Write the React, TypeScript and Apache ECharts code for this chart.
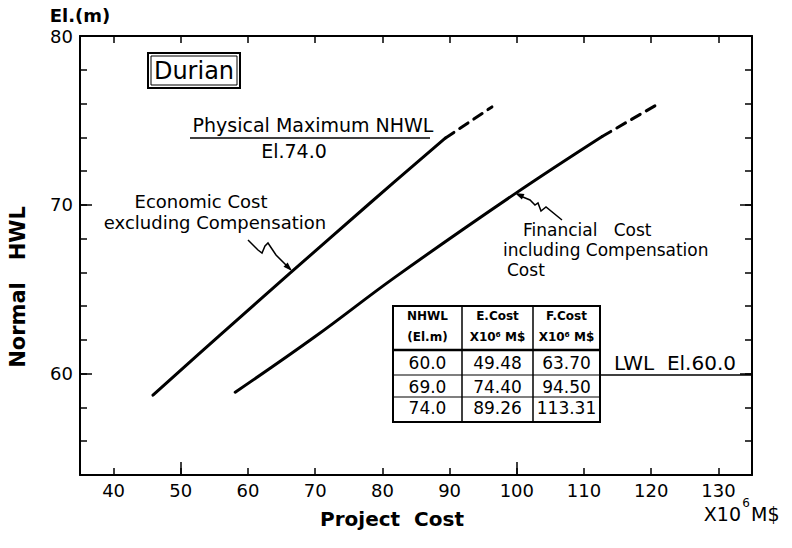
import React, { useEffect, useRef } from 'react';
import * as echarts from 'echarts';

const FONT = 'DejaVu Sans';

// axis ticks / labels
const xTicks = [40, 50, 60, 70, 80, 90, 100, 110, 120, 130];
const xMajorTicks = [50, 100];
const yTicks = [56, 58, 60, 62, 64, 66, 68, 70, 72, 74, 76, 78];
const yLabels = [60, 70, 80];
const yMajorTicks = [60, 70];

// Economic cost excluding compensation (solid) and its extension (dashed)
const economicCost = [45.86, 56, 66.25, 78, 89.4];
const economicNHWL = [58.73, 62.35, 65.95, 70.05, 73.96];
const economicExtCost = [89.4, 96.3];
const economicExtNHWL = [73.96, 75.8];

// Financial cost including compensation cost (solid) and its extension (dashed)
const financialCost = [58.1, 70, 81.9, 99.7, 112.7];
const financialNHWL = [58.9, 62.2, 65.72, 70.65, 74.05];
const financialExtCost = [112.7, 121.05];
const financialExtNHWL = [74.05, 75.98];

// table
const tableNHWL = ['60.0', '69.0', '74.0'];
const tableECost = ['49.48', '74.40', '89.26'];
const tableFCost = ['63.70', '94.50', '113.31'];

const zip = (xs: number[], ys: number[]) => xs.map((x, i) => [x, ys[i]]);

export default function App() {
  const ref = useRef<HTMLDivElement>(null);
  useEffect(() => {
    if (!ref.current) return;
    const chart = echarts.init(ref.current, null, { renderer: 'svg' });
    const X_MIN = 35, X_MAX = 135, Y_MIN = 54, Y_MAX = 80;
    const black = '#000';

    const tL = 393, tR = 600, c1 = 462, c2 = 533, tT = 306, hB = 350, r1 = 375, r2 = 397, tB = 422;
    const cols = [(tL + c1) / 2, (c1 + c2) / 2, (c2 + tR) / 2];
    const rowY = [363, 387, 408];

    const txt = (text: string, x: number, y: number, size: number, opts: any = {}) => ({
      type: 'text', x, y, silent: true,
      style: {
        text, fill: black, fontSize: size, fontFamily: FONT,
        fontWeight: opts.weight || 'normal',
        align: opts.align || 'center', verticalAlign: 'middle',
      },
    });
    const ln = (x1: number, y1: number, x2: number, y2: number, w = 1.5) => ({
      type: 'line', silent: true, shape: { x1, y1, x2, y2 }, style: { stroke: black, lineWidth: w },
    });

    const tableEls: any[] = [
      { type: 'rect', shape: { x: tL, y: tT, width: tR - tL, height: tB - tT }, style: { fill: '#fff', stroke: black, lineWidth: 2 } },
      ln(c1, tT, c1, tB, 1.5), ln(c2, tT, c2, tB, 1.5),
      ln(tL, hB, tR, hB, 2.5), ln(tL, r1, tR, r1, 1.2), ln(tL, r2, tR, r2, 1.2),
      txt('NHWL', cols[0], 316, 12, { weight: 'bold' }),
      txt('(El.m)', cols[0], 337, 12, { weight: 'bold' }),
      txt('E.Cost', cols[1], 316, 12, { weight: 'bold' }),
      txt('X10⁶ M$', cols[1], 337, 12, { weight: 'bold' }),
      txt('F.Cost', cols[2], 316, 12, { weight: 'bold' }),
      txt('X10⁶ M$', cols[2], 337, 12, { weight: 'bold' }),
    ];
    tableNHWL.forEach((v, i) => tableEls.push(txt(v, cols[0], rowY[i], 17)));
    tableECost.forEach((v, i) => tableEls.push(txt(v, cols[1], rowY[i], 17)));
    tableFCost.forEach((v, i) => tableEls.push(txt(v, cols[2], rowY[i], 17)));

    const graphic: any[] = [
      // Durian box
      { type: 'rect', shape: { x: 148, y: 53, width: 92, height: 35 }, style: { fill: '#fff', stroke: black, lineWidth: 2 } },
      { type: 'rect', shape: { x: 151, y: 56, width: 86, height: 29 }, style: { fill: 'none', stroke: black, lineWidth: 1 } },
      txt('Durian', 194, 71, 24),
      // Physical maximum
      txt('Physical Maximum NHWL', 313, 125, 19),
      ln(190, 138, 430, 138, 1.5),
      txt('El.74.0', 294, 151, 19),
      // Economic label
      txt('Economic Cost', 201, 201, 18),
      txt('excluding Compensation', 215, 222, 18),
      { type: 'polyline', silent: true, shape: { points: [[248, 240], [258, 250], [262, 253], [265, 246], [268, 243], [272, 249], [276, 255], [290, 269]] }, style: { stroke: black, lineWidth: 1.5, fill: 'none' } },
      { type: 'polygon', silent: true, shape: { points: [[292, 271], [287.7, 262.5], [283.5, 266.7]] }, style: { fill: black } },
      // Financial label
      txt('Financial   Cost', 523, 230, 17, { align: 'left' }),
      txt('including Compensation', 503, 250, 17, { align: 'left' }),
      txt('Cost', 507, 270, 17, { align: 'left' }),
      { type: 'polyline', silent: true, shape: { points: [[562, 220], [546, 207], [541, 211], [538, 203], [535, 205], [530, 200], [518, 195]] }, style: { stroke: black, lineWidth: 1.5, fill: 'none' } },
      { type: 'polygon', silent: true, shape: { points: [[515, 193], [524.5, 194.1], [521.9, 199.5]] }, style: { fill: black } },
      // LWL
      txt('LWL  El.60.0', 675, 363, 20),
      ln(600, 375, 751, 375, 1.5),
      // axis titles
      { type: 'text', x: 18, y: 287, rotation: Math.PI / 2, silent: true, style: { text: 'Normal   HWL', fill: black, fontSize: 21, fontFamily: FONT, fontWeight: 'bold', align: 'center', verticalAlign: 'middle' } },
      txt('Project  Cost', 392, 519, 20, { weight: 'bold' }),
      txt('X10', 741, 514, 19, { align: 'right' }),
      txt('6', 746, 503, 12),
      txt('M$', 751, 514, 19, { align: 'left' }),
      ...tableEls,
    ];

    const baseX = (pos: string, show: boolean, ticks: number[], len: number, line: boolean) => ({
      type: 'value', min: X_MIN, max: X_MAX, position: pos,
      axisLine: { show: line, onZero: false, lineStyle: { color: black, width: 2 } },
      axisTick: { show: true, inside: true, length: len, customValues: ticks, lineStyle: { color: black, width: 1.5 } },
      axisLabel: { show, customValues: xTicks, color: black, fontSize: 18, fontFamily: FONT, margin: 6 },
      splitLine: { show: false },
    });
    const baseY = (pos: string, show: boolean, ticks: number[], len: number, line: boolean) => ({
      type: 'value', min: Y_MIN, max: Y_MAX, position: pos,
      axisLine: { show: line, onZero: false, lineStyle: { color: black, width: 2 } },
      axisTick: { show: true, inside: true, length: len, customValues: ticks, lineStyle: { color: black, width: 1.5 } },
      axisLabel: { show, customValues: yLabels, color: black, fontSize: 18, fontFamily: FONT, margin: 7 },
      splitLine: { show: false },
    });

    const yMain: any = baseY('left', true, yTicks, 7, true);
    yMain.name = 'El.(m)';
    yMain.nameLocation = 'end';
    yMain.nameGap = 12;
    yMain.nameTextStyle = { color: black, fontSize: 18, fontFamily: FONT, fontWeight: 'bold', align: 'center' };

    const lineStyle = (type: any) => ({ color: black, width: 3, type, cap: 'round' });

    chart.setOption({
      animation: false,
      backgroundColor: '#fff',
      grid: { left: 80, right: 40, top: 36, bottom: 73, containLabel: false },
      xAxis: [
        baseX('bottom', true, xTicks, 7, true),
        baseX('top', false, xTicks, 7, true),
        baseX('bottom', false, xMajorTicks, 13, false),
      ],
      yAxis: [
        yMain,
        baseY('right', false, yTicks, 7, true),
        baseY('left', false, yMajorTicks, 12, false),
        baseY('right', false, yMajorTicks, 12, false),
      ],
      series: [
        { type: 'line', data: zip(economicCost, economicNHWL), smooth: 0.4, showSymbol: false, lineStyle: lineStyle('solid'), z: 3 },
        { type: 'line', data: zip(economicExtCost, economicExtNHWL), showSymbol: false, lineStyle: lineStyle([10, 7]), z: 3 },
        { type: 'line', data: zip(financialCost, financialNHWL), smooth: 0.4, showSymbol: false, lineStyle: lineStyle('solid'), z: 3 },
        { type: 'line', data: zip(financialExtCost, financialExtNHWL), showSymbol: false, lineStyle: lineStyle([10, 7]), z: 3 },
      ],
      graphic,
    });
    return () => chart.dispose();
  }, []);
  return <div ref={ref} style={{ position: 'fixed', left: 0, top: 0, width: 792, height: 548, background: '#fff' }} />;
}
